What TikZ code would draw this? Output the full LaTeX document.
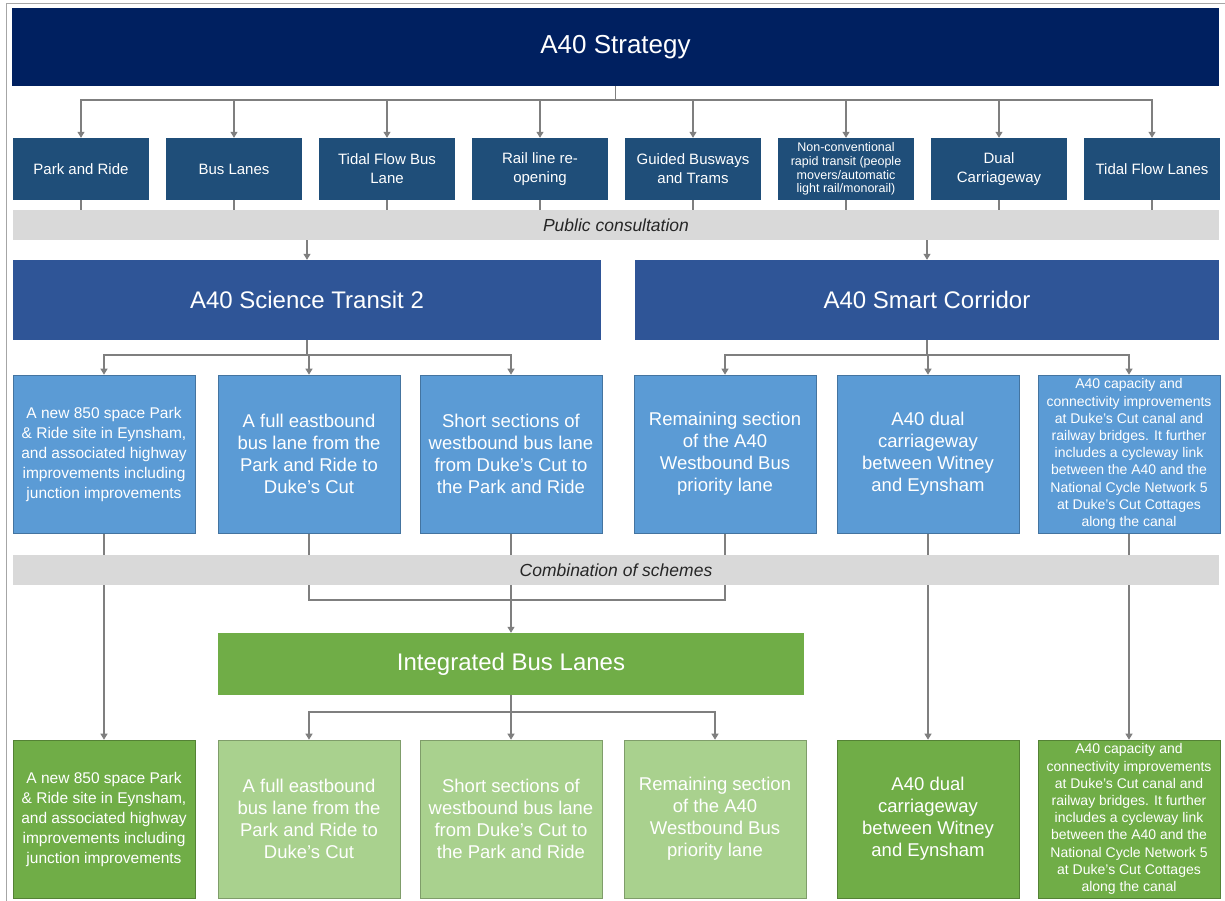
\documentclass[tikz,border=0pt]{standalone}
\usepackage{fontspec}
\setmainfont{Liberation Sans}
\usetikzlibrary{arrows.meta,backgrounds}
\definecolor{navy}{HTML}{002060}
\definecolor{optblue}{HTML}{1F4E79}
\definecolor{headblue}{HTML}{2F5597}
\definecolor{schblue}{HTML}{5B9BD5}
\definecolor{busgreen}{HTML}{70AD47}
\definecolor{palegreen}{HTML}{A9D18E}
\definecolor{bargray}{HTML}{D9D9D9}
\definecolor{linegray}{HTML}{7F7F7F}
\begin{document}
\begin{tikzpicture}[x=1pt,y=-1pt,
    box/.style={rectangle,text=white,align=center,inner sep=0pt},
    title/.style={box,minimum height=78pt,font=\fontsize{26}{30}\selectfont},
    option/.style={box,fill=optblue,minimum width=136pt,minimum height=62pt,
      font=\fontsize{15}{19}\selectfont},
    stage/.style={rectangle,fill=bargray,minimum width=1206pt,minimum height=30pt,
      text=black!85,font=\fontsize{17.5}{20}\selectfont\itshape},
    header/.style={box,fill=headblue,minimum height=80pt,
      font=\fontsize{24}{28}\selectfont},
    scheme/.style={box,draw=#1!75!black,line width=0.6pt,fill=#1,
      minimum width=182pt,minimum height=158pt,font=\fontsize{18.5}{22}\selectfont},
    small/.style={font=\fontsize{15.5}{20}\selectfont},
    tiny/.style={font=\fontsize{14}{17.2}\selectfont},
    conn/.style={draw=linegray,line width=1.1pt},
    arr/.style={conn,-{Triangle[width=7pt,length=6pt]}}]

  \useasboundingbox (0,0) rectangle (1225,901);
  \draw[black!35,line width=1pt] (6,901) -- (6,4) -- (1225,4);

  % strategy and options
  \node[title,fill=navy,minimum width=1207pt] (strategy) at (615.5,47) {A40 Strategy};
  \node[option] (opt-1) at (81,169)   {Park and Ride};
  \node[option] (opt-2) at (234,169)  {Bus Lanes};
  \node[option] (opt-3) at (387,169)  {Tidal Flow Bus\\Lane};
  \node[option] (opt-4) at (540,169)  {Rail line re-\\opening};
  \node[option] (opt-5) at (693,169)  {Guided Busways\\and Trams};
  \node[option,font=\fontsize{12.5}{13.6}\selectfont] (opt-6) at (846,169)
    {Non-conventional\\rapid transit (people\\movers/automatic\\light rail/monorail)};
  \node[option] (opt-7) at (999,169)  {Dual\\Carriageway};
  \node[option] (opt-8) at (1152,169) {Tidal Flow Lanes};

  \node[stage] (consult) at (616,225) {Public consultation};

  % the two packages
  \node[header,minimum width=588pt] (st2) at (307,300) {A40 Science Transit 2};
  \node[header,minimum width=584pt] (smart) at (927,300) {A40 Smart Corridor};

  \node[scheme=schblue,small] (sch-1) at (104,454)
    {A new 850 space Park\\\& Ride site in Eynsham,\\and associated highway\\improvements including\\junction improvements};
  \node[scheme=schblue] (sch-2) at (309,454)
    {A full eastbound\\bus lane from the\\Park and Ride to\\Duke's Cut};
  \node[scheme=schblue] (sch-3) at (511,454)
    {Short sections of\\westbound bus lane\\from Duke's Cut to\\the Park and Ride};
  \node[scheme=schblue] (sch-4) at (725,454)
    {Remaining section\\of the A40\\Westbound Bus\\priority lane};
  \node[scheme=schblue] (sch-5) at (928,454)
    {A40 dual\\carriageway\\between Witney\\and Eynsham};
  \node[scheme=schblue,tiny] (sch-6) at (1129,454)
    {A40 capacity and\\connectivity improvements\\at Duke's Cut canal and\\railway bridges. It further\\includes a cycleway link\\between the A40 and the\\National Cycle Network 5\\at Duke's Cut Cottages\\along the canal};

  \node[stage] (combo) at (616,570) {Combination of schemes};

  % combined schemes
  \node[box,fill=busgreen,minimum width=586pt,minimum height=62pt,
    font=\fontsize{24}{28}\selectfont] (ibl) at (511,664) {Integrated Bus Lanes};

  \node[scheme=busgreen,small] (res-1) at (104,819)
    {A new 850 space Park\\\& Ride site in Eynsham,\\and associated highway\\improvements including\\junction improvements};
  \node[scheme=palegreen] (res-2) at (309,819)
    {A full eastbound\\bus lane from the\\Park and Ride to\\Duke's Cut};
  \node[scheme=palegreen] (res-3) at (511,819)
    {Short sections of\\westbound bus lane\\from Duke's Cut to\\the Park and Ride};
  \node[scheme=palegreen] (res-4) at (715,819)
    {Remaining section\\of the A40\\Westbound Bus\\priority lane};
  \node[scheme=busgreen] (res-5) at (928,819)
    {A40 dual\\carriageway\\between Witney\\and Eynsham};
  \node[scheme=busgreen,tiny] (res-6) at (1129,819)
    {A40 capacity and\\connectivity improvements\\at Duke's Cut canal and\\railway bridges. It further\\includes a cycleway link\\between the A40 and the\\National Cycle Network 5\\at Duke's Cut Cottages\\along the canal};

  \coordinate (split-1) at (615.5,100);
  \coordinate (split-2) at (307,355);
  \coordinate (split-3) at (927,355);
  \coordinate (merge) at (511,600);
  \coordinate (split-4) at (511,712);

  \begin{scope}[on background layer]
    \draw[conn] (strategy.south) -- (split-1);
    \foreach \i in {1,...,8} {
      \draw[arr] (split-1) -| (opt-\i.north);
      \draw[conn] (opt-\i.south) -- (opt-\i.south |- consult.north);
    }
    \draw[arr] (consult.south -| st2.north) -- (st2.north);
    \draw[arr] (consult.south -| smart.north) -- (smart.north);
    \draw[conn] (st2.south) -- (split-2);
    \draw[conn] (smart.south) -- (split-3);
    \foreach \i in {1,2,3}
      \draw[arr] (split-2) -| (sch-\i.north);
    \foreach \i in {4,5,6}
      \draw[arr] (split-3) -| (sch-\i.north);
    \draw[conn] (sch-2.south) |- (merge) -| (sch-4.south);
    \draw[arr] (sch-3.south) -- (ibl.north);
    \draw[arr] (sch-1.south) -- (res-1.north);
    \draw[arr] (sch-5.south) -- (res-5.north);
    \draw[arr] (sch-6.south) -- (res-6.north);
    \draw[conn] (ibl.south) -- (split-4);
    \foreach \i in {2,3,4}
      \draw[arr] (split-4) -| (res-\i.north);
  \end{scope}
\end{tikzpicture}
\end{document}
